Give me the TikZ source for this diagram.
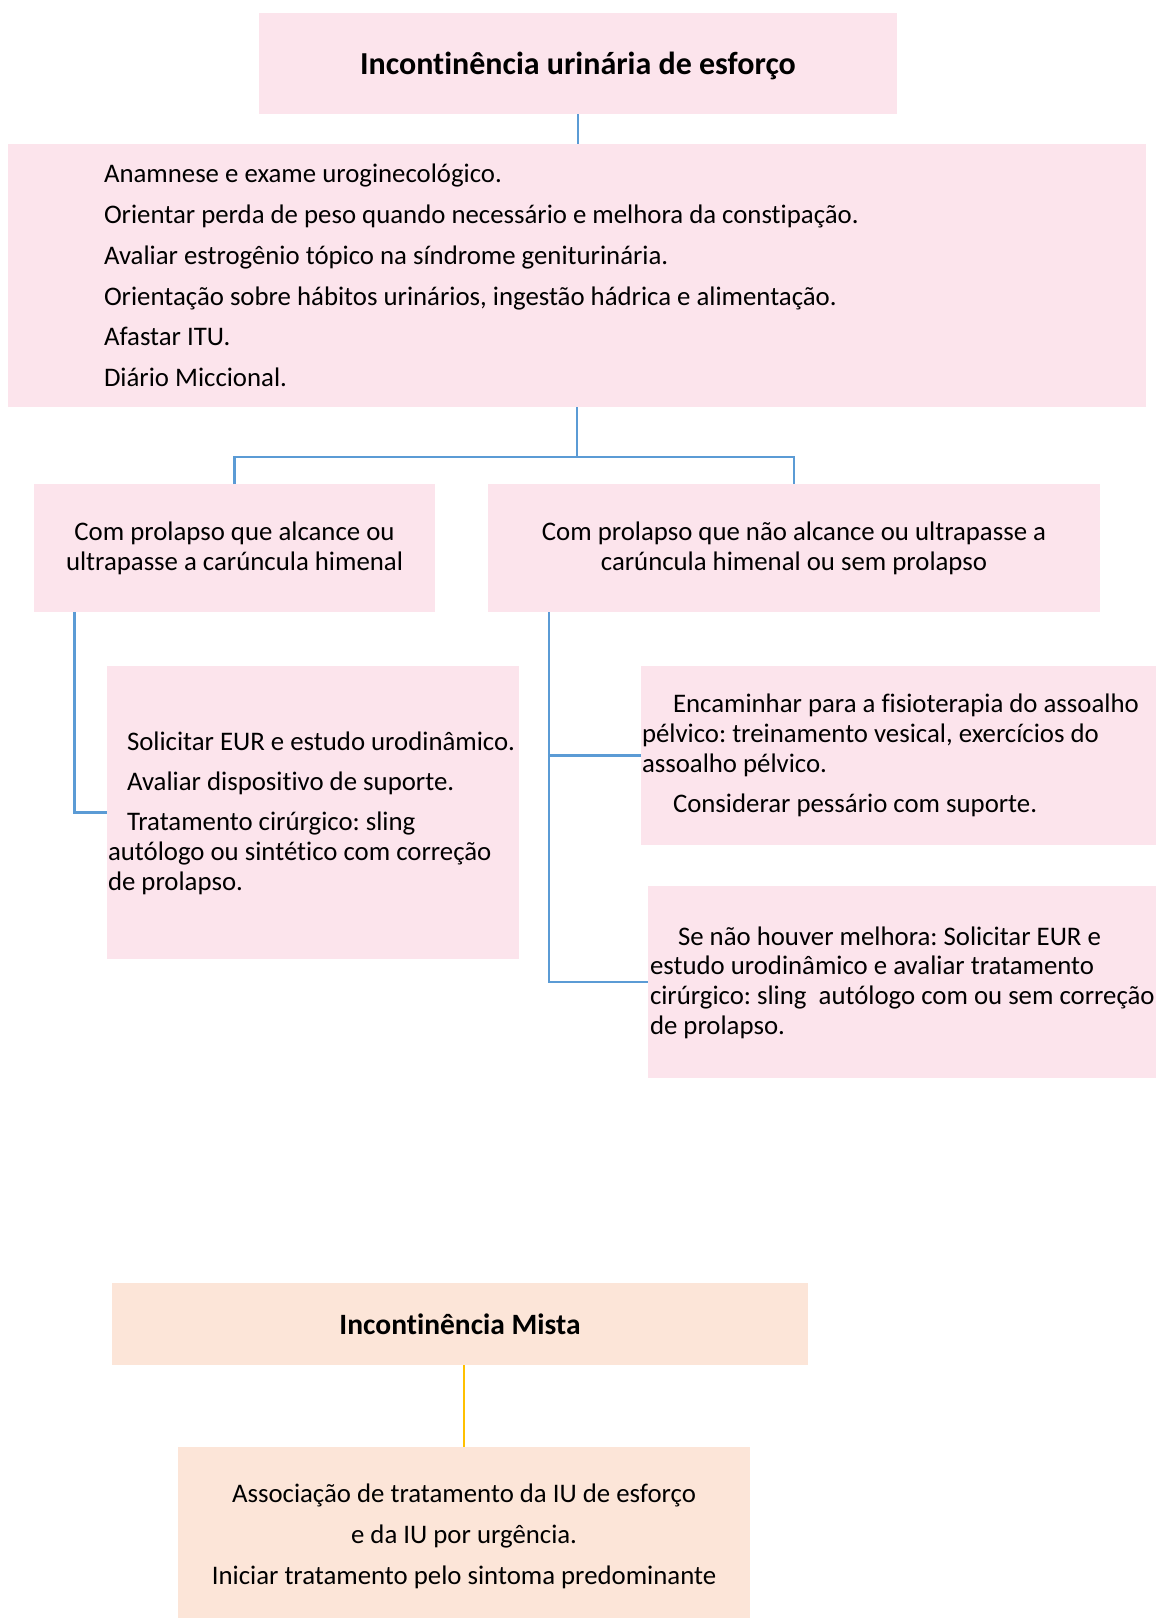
\documentclass[tikz,border=0pt]{standalone}
\usepackage{fontspec}
\setmainfont{Carlito}[Ligatures={NoCommon}]
\definecolor{pinkfill}{RGB}{252,228,236}
\definecolor{peachfill}{RGB}{252,229,216}
\definecolor{linkblue}{RGB}{91,155,213}
\definecolor{linkorange}{RGB}{255,192,0}
\tikzset{
  pinkbox/.style={fill=pinkfill, draw=none, inner sep=0pt, outer sep=0pt, anchor=north west},
  peachbox/.style={fill=peachfill, draw=none, inner sep=0pt, outer sep=0pt, anchor=north west},
  bodytxt/.style={inner sep=0pt, outer sep=0pt, font=\fontsize{26.8}{29.7}\selectfont},
  titletxt/.style={font=\bfseries},
  bl/.style={draw=linkblue, line width=2.2pt},
  orl/.style={draw=linkorange, line width=1.3pt},
}
\frenchspacing
\begin{document}
\begin{tikzpicture}[x=1pt,y=-1pt]
\useasboundingbox (0,0) rectangle (1156,1618);
% boxes
\node[pinkbox, minimum width=638pt, minimum height=101pt] (top) at (259,13) {};
\node[titletxt, font=\fontsize{32}{38}\selectfont\bfseries] (toptxt) at ([yshift=-2pt]top.center) {Incontinência urinária de esforço};
\node[pinkbox, minimum width=1138pt, minimum height=263pt] (big) at (8,144) {};
\node[pinkbox, minimum width=401pt, minimum height=128pt] (l1) at (34,484) {};
\node[pinkbox, minimum width=612pt, minimum height=128pt] (r1) at (488,484) {};
\node[pinkbox, minimum width=412pt, minimum height=293pt] (l2) at (107,666) {};
\node[pinkbox, minimum width=515pt, minimum height=179pt] (r2) at (641,666) {};
\node[pinkbox, minimum width=508.5pt, minimum height=192pt] (r3) at (647.5,886) {};
\node[peachbox, minimum width=696pt, minimum height=82pt] (m1) at (112,1283) {};
\node[peachbox, minimum width=572pt, minimum height=171pt] (m2) at (178,1447) {};
% texts
\node[bodytxt, font=\fontsize{26.8}{40.7}\selectfont, align=left, anchor=west] (bigtxt) at (104,275.5) {%
Anamnese e exame uroginecológico.\\
Orientar perda de peso quando necessário e melhora da constipação.\\
Avaliar estrogênio tópico na síndrome geniturinária.\\
Orientação sobre hábitos urinários, ingestão hádrica e alimentação.\\
Afastar ITU.\\
Diário Miccional.};
\node[bodytxt, align=center] (l1txt) at (l1.center) {Com prolapso que alcance ou\\ultrapasse a carúncula himenal};
\node[bodytxt, align=center] (r1txt) at (r1.center) {Com prolapso que não alcance ou ultrapasse a\\carúncula himenal ou sem prolapso};
\node[bodytxt, align=left, anchor=west] (l2txt) at (108,813) {%
\hspace*{19pt}Solicitar EUR e estudo urodinâmico.\\[10.5pt]
\hspace*{19pt}Avaliar dispositivo de suporte.\\[10.5pt]
\hspace*{19pt}Tratamento cirúrgico: sling\\
autólogo ou sintético com correção\\
de prolapso.};
\node[bodytxt, align=left, anchor=west] (r2txt) at (642,755.5) {%
\hspace*{31pt}Encaminhar para a fisioterapia do assoalho\\
pélvico: treinamento vesical, exercícios do\\
assoalho pélvico.\\[10.5pt]
\hspace*{31pt}Considerar pessário com suporte.};
\node[bodytxt, align=left, anchor=west] (r3txt) at (650,982.5) {%
\hspace*{28pt}Se não houver melhora: Solicitar EUR e\\
estudo urodinâmico e avaliar tratamento\\
cirúrgico: sling~ autólogo com ou sem correção\\
de prolapso.};
\node[titletxt, font=\fontsize{29.5}{35}\selectfont\bfseries] (m1txt) at (m1.center) {Incontinência Mista};
\node[bodytxt, font=\fontsize{26.8}{41}\selectfont, align=center] (m2txt) at (464,1536) {%
Associação de tratamento da IU de esforço\\
e da IU por urgência.\\
Iniciar tratamento pelo sintoma predominante};
% connectors
\draw[bl] (top.south) -- (top.south |- big.north);
\coordinate (j) at ([yshift=-50pt]big.south);
\draw[bl] (big.south) -- (j);
\draw[bl] (l1.north) |- (j) -| (r1.north);
\draw[bl] ([xshift=40.5pt]l1.south west) |- (l2.west);
\draw[bl] ([xshift=61pt]r1.south west) |- (r3.west);
\draw[bl] ([xshift=61pt]r1.south west) |- (r2.west);
\draw[orl] (m1.south -| m2.north) -- (m2.north);
\end{tikzpicture}
\end{document}
